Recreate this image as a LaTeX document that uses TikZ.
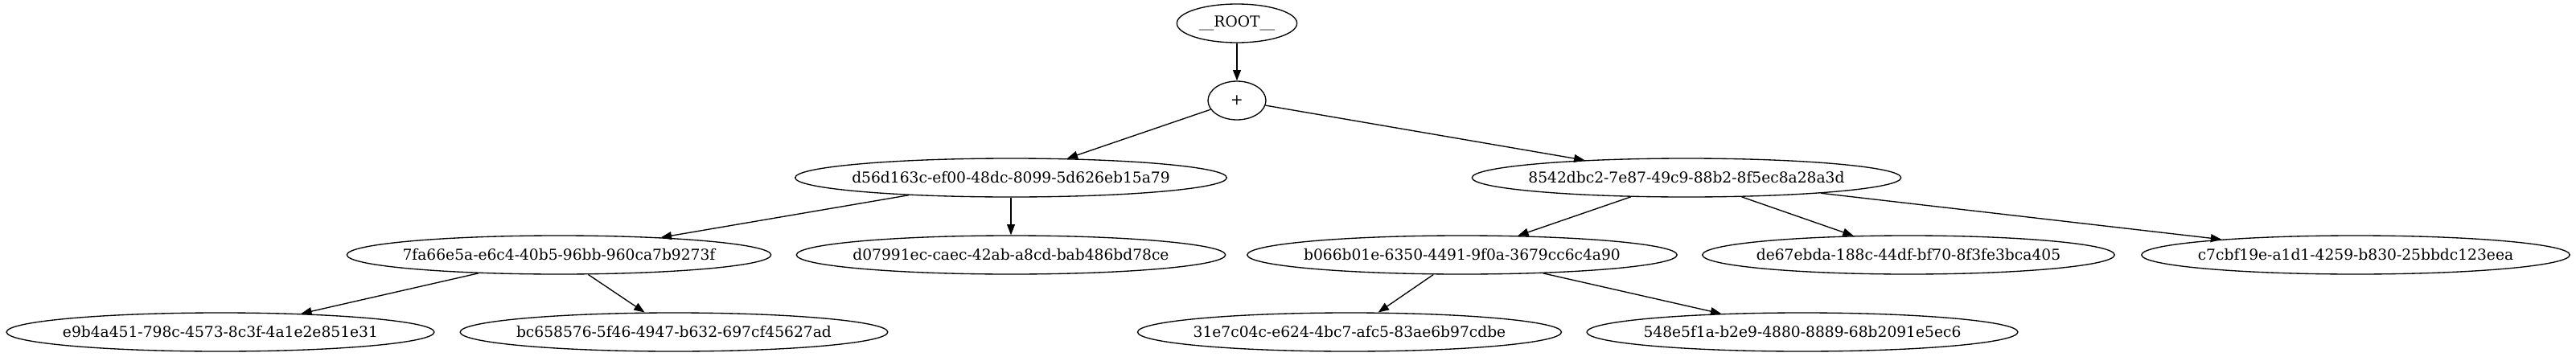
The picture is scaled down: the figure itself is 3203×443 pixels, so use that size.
\documentclass[tikz,border=0pt]{standalone}
\usepackage{fontspec}
\setmainfont{DejaVu Serif}
\usetikzlibrary{shapes.geometric,arrows.meta}
\begin{document}
\begin{tikzpicture}[x=0.75pt, y=-0.75pt]
        \tikzstyle{gv} = [ellipse, draw, line width=1pt, font=\fontsize{14}{16}\selectfont, minimum width=54pt, minimum height=36pt, inner sep=0pt]
        \tikzstyle{uid} = [gv, inner xsep=-6pt]
        \tikzstyle{link} = [line width=1pt, -{Triangle[length=10pt, width=7.5pt]}]
    \useasboundingbox (0,0) rectangle (3203,443);
    \node[gv, minimum width=112pt] (root) at (1538,29) {\_\_ROOT\_\_};
    \node[gv] (plus) at (1538,125) {+};
    \node[uid] (d56) at (1257,221) {d56d163c-ef00-48dc-8099-5d626eb15a79};
    \node[uid] (n85) at (2097,221) {8542dbc2-7e87-49c9-88b2-8f5ec8a28a3d};
    \node[uid] (n7f) at (695,317) {7fa66e5a-e6c4-40b5-96bb-960ca7b9273f};
    \node[uid] (d07) at (1257,317) {d07991ec-caec-42ab-a8cd-bab486bd78ce};
    \node[uid] (b06) at (1818,317) {b066b01e-6350-4491-9f0a-3679cc6c4a90};
    \node[uid] (de6) at (2373,317) {de67ebda-188c-44df-bf70-8f3fe3bca405};
    \node[uid] (c7c) at (2929,317) {c7cbf19e-a1d1-4259-b830-25bbdc123eea};
    \node[uid] (e9b) at (274,413) {e9b4a451-798c-4573-8c3f-4a1e2e851e31};
    \node[uid] (bc6) at (838,413) {bc658576-5f46-4947-b632-697cf45627ad};
    \node[uid] (n31) at (1678,413) {31e7c04c-e624-4bc7-afc5-83ae6b97cdbe};
    \node[uid] (n54) at (2241,413) {548e5f1a-b2e9-4880-8889-68b2091e5ec6};
    \foreach \a/\b in {root/plus, plus/d56, plus/n85, d56/n7f, d56/d07, n7f/e9b, n7f/bc6, n85/b06, n85/de6, n85/c7c, b06/n31, b06/n54}
        \draw[link] (\a) -- (\b);
\end{tikzpicture}
\end{document}
